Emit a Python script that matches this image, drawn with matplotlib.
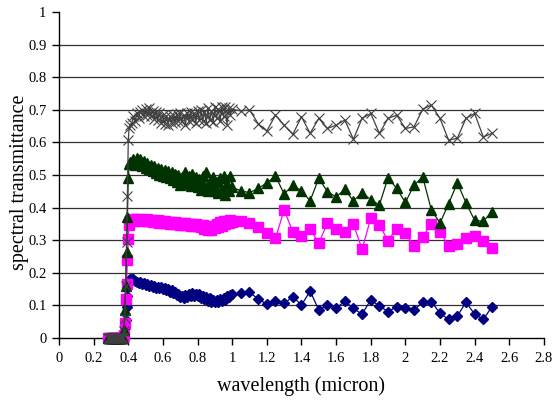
import numpy as np
import matplotlib
matplotlib.use("Agg")
import matplotlib.pyplot as plt
from matplotlib.ticker import FuncFormatter, MultipleLocator

# wavelength grid (micron)
wl_zero = np.round(np.arange(0.285, 0.3701, 0.005), 3)
wl_rise = np.round(np.arange(0.375, 0.4101, 0.005), 3)
wl_dense = np.round(np.arange(0.42, 1.0001, 0.01), 3)
wl_sparse = np.round(np.arange(1.05, 2.5001, 0.05), 3)
wavelength = np.concatenate([wl_zero, wl_rise, wl_dense, wl_sparse])

zeros_uv = [0.0] * len(wl_zero)

gray_rise = [0.02, 0.06, 0.16, 0.295, 0.436, 0.607, 0.645, 0.655]
gray_dense = [0.660, 0.680, 0.665, 0.690, 0.675, 0.695, 0.700, 0.680, 0.702, 0.685,
              0.705, 0.682, 0.698, 0.672, 0.695, 0.668, 0.690, 0.660, 0.685, 0.658,
              0.682, 0.655, 0.680, 0.660, 0.685, 0.662, 0.688, 0.665, 0.690, 0.665,
              0.685, 0.655, 0.692, 0.665, 0.695, 0.668, 0.690, 0.660, 0.698, 0.668,
              0.700, 0.665, 0.695, 0.660, 0.705, 0.668, 0.698, 0.662, 0.708, 0.675,
              0.702, 0.665, 0.708, 0.680, 0.710, 0.655, 0.705, 0.685, 0.702]
gray_sparse = [0.697, 0.700, 0.658, 0.635, 0.684, 0.653, 0.625, 0.679, 0.628, 0.674,
               0.643, 0.653, 0.669, 0.610, 0.674, 0.689, 0.628, 0.674, 0.684, 0.643,
               0.648, 0.702, 0.715, 0.674, 0.607, 0.613, 0.674, 0.689, 0.617, 0.628]

green_rise = [0.025, 0.086, 0.16, 0.265, 0.37, 0.49, 0.535, 0.54]
green_dense = [0.540, 0.548, 0.532, 0.553, 0.538, 0.550, 0.528, 0.542, 0.522, 0.538,
               0.518, 0.532, 0.512, 0.528, 0.506, 0.522, 0.500, 0.518, 0.496, 0.515,
               0.494, 0.512, 0.490, 0.508, 0.486, 0.503, 0.480, 0.500, 0.470, 0.493,
               0.476, 0.508, 0.472, 0.498, 0.465, 0.503, 0.470, 0.493, 0.462, 0.488,
               0.455, 0.498, 0.465, 0.508, 0.450, 0.483, 0.460, 0.493, 0.452, 0.478,
               0.445, 0.490, 0.458, 0.498, 0.438, 0.472, 0.452, 0.497, 0.462]
green_sparse = [0.452, 0.446, 0.459, 0.476, 0.497, 0.442, 0.469, 0.452, 0.421, 0.490,
                0.449, 0.433, 0.456, 0.421, 0.446, 0.425, 0.408, 0.492, 0.459, 0.416,
                0.469, 0.495, 0.393, 0.353, 0.412, 0.476, 0.415, 0.361, 0.358, 0.388]

pink_rise = [0.01, 0.045, 0.12, 0.166, 0.239, 0.305, 0.347, 0.36]
pink_dense = [0.362, 0.365, 0.360, 0.366, 0.362, 0.364, 0.358, 0.363, 0.360, 0.364,
              0.358, 0.362, 0.356, 0.360, 0.355, 0.361, 0.354, 0.359, 0.353, 0.358,
              0.352, 0.357, 0.350, 0.356, 0.351, 0.355, 0.349, 0.354, 0.348, 0.353,
              0.347, 0.352, 0.346, 0.351, 0.345, 0.350, 0.344, 0.349, 0.343, 0.348,
              0.340, 0.346, 0.336, 0.342, 0.333, 0.338, 0.332, 0.345, 0.338, 0.350,
              0.342, 0.355, 0.345, 0.358, 0.350, 0.360, 0.352, 0.362, 0.356]
pink_sparse = [0.360, 0.354, 0.342, 0.323, 0.306, 0.393, 0.326, 0.314, 0.334, 0.292,
               0.352, 0.336, 0.324, 0.350, 0.272, 0.367, 0.347, 0.299, 0.336, 0.321,
               0.283, 0.311, 0.351, 0.326, 0.283, 0.287, 0.306, 0.313, 0.299, 0.277]

blue_rise = [0.01, 0.03, 0.055, 0.096, 0.13, 0.169, 0.178, 0.18]
blue_dense = [0.180, 0.182, 0.175, 0.172, 0.168, 0.172, 0.165, 0.168, 0.162, 0.165,
              0.160, 0.163, 0.157, 0.160, 0.155, 0.158, 0.152, 0.156, 0.150, 0.154,
              0.147, 0.150, 0.142, 0.146, 0.138, 0.142, 0.132, 0.136, 0.126, 0.130,
              0.124, 0.132, 0.126, 0.134, 0.128, 0.138, 0.130, 0.136, 0.128, 0.134,
              0.124, 0.130, 0.120, 0.126, 0.115, 0.122, 0.112, 0.118, 0.110, 0.116,
              0.112, 0.120, 0.115, 0.124, 0.118, 0.128, 0.125, 0.132, 0.134]
blue_sparse = [0.137, 0.140, 0.120, 0.104, 0.113, 0.106, 0.127, 0.101, 0.144, 0.086,
               0.101, 0.091, 0.113, 0.091, 0.073, 0.117, 0.098, 0.081, 0.096, 0.093,
               0.086, 0.110, 0.112, 0.076, 0.057, 0.067, 0.110, 0.073, 0.057, 0.096]

gray = zeros_uv + gray_rise + gray_dense + gray_sparse
green = zeros_uv + green_rise + green_dense + green_sparse
pink = zeros_uv + pink_rise + pink_dense + pink_sparse
blue = zeros_uv + blue_rise + blue_dense + blue_sparse

plt.rcParams['font.family'] = ['Liberation Serif', 'DejaVu Serif']

fig = plt.figure(figsize=(5.55, 4.05), dpi=100)
ax = fig.add_axes([0.1063, 0.1654, 0.8737, 0.8046])

for yv in np.arange(0.1, 0.95, 0.1):
    ax.axhline(yv, color='#303030', lw=0.9, zorder=0)

ax.plot(wavelength, blue, color='#000080', lw=0.9, marker='D', ms=5.5,
        mfc='#000080', mec='#000080', zorder=2, clip_on=False)
ax.plot(wavelength, pink, color='#FF00FF', lw=0.9, marker='s', ms=6.5,
        mfc='#FF00FF', mec='#FF00FF', zorder=3, clip_on=False)
ax.plot(wavelength, green, color='#003300', lw=0.9, marker='^', ms=7.5,
        mfc='#003300', mec='#003300', zorder=4, clip_on=False)
ax.plot(wavelength, gray, color='#404040', lw=0.9, marker='x', ms=7.5, mew=0.8,
        mec='#404040', zorder=5, clip_on=False)

ax.set_xlim(0, 2.8)
ax.set_ylim(0, 1)
ax.xaxis.set_major_locator(MultipleLocator(0.2))
ax.yaxis.set_major_locator(MultipleLocator(0.1))
fmt = FuncFormatter(lambda v, p: ('%.1f' % v).rstrip('0').rstrip('.') if abs(v) > 1e-9 else '0')
ax.xaxis.set_major_formatter(fmt)
ax.yaxis.set_major_formatter(fmt)

for s in ['top', 'right']:
    ax.spines[s].set_visible(False)
for s in ['left', 'bottom']:
    ax.spines[s].set_color('black')
    ax.spines[s].set_linewidth(1.0)
ax.tick_params(direction='out', length=5, width=1, labelsize=10.5, colors='black')
ax.tick_params(axis='x', pad=5)
ax.tick_params(axis='y', pad=4)

ax.set_xlabel('wavelength (micron)', fontsize=14.5, labelpad=8)
ax.set_ylabel('spectral transmittance', fontsize=14.5)
ax.yaxis.set_label_coords(-0.062, 0.478)

fig.savefig('out.png', dpi=100)
